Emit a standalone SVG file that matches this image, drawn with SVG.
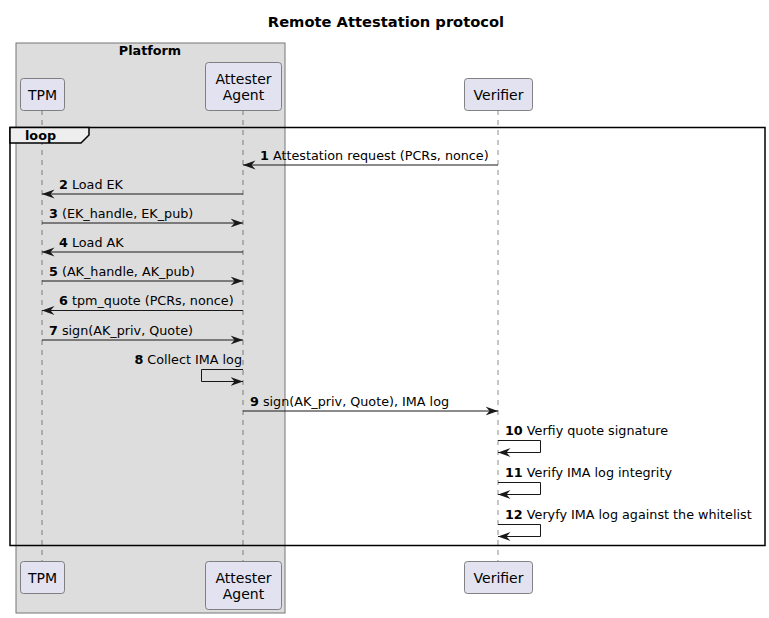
<svg xmlns="http://www.w3.org/2000/svg" width="769" height="618" viewBox="0 0 769 618">
<style>
text{font-family:"DejaVu Sans",sans-serif;fill:#000}
.t{font-size:12.75px}
.p{font-size:14px;text-anchor:middle}
.b{font-weight:bold}
.part{fill:#E2E2F0;stroke:#666;stroke-width:0.8}
.life{stroke:#181818;stroke-width:0.5;stroke-dasharray:5,5;fill:none}
.msg{stroke:#181818;stroke-width:1;fill:none}
</style>
<defs>
<marker id="arr" viewBox="0 0 13 10" refX="12.5" refY="5" markerWidth="13" markerHeight="10" markerUnits="userSpaceOnUse" orient="auto">
<polygon points="0,0.5 12.5,5 0,9.5 4,5" fill="#181818"/>
</marker>
</defs>
<rect width="769" height="618" fill="#fff"/>
<text x="386" y="27" class="b" style="font-size:14.7px;text-anchor:middle">Remote Attestation protocol</text>

<g id="platform">
<rect x="16" y="43" width="269" height="570" fill="#DDDDDD" stroke="#777" stroke-width="1"/>
<text x="150" y="55" class="b t" text-anchor="middle">Platform</text>
</g>

<g id="lifelines">
<line class="life" x1="42" y1="110" x2="42" y2="561"/>
<line class="life" x1="243" y1="110" x2="243" y2="561"/>
<line class="life" x1="498" y1="110" x2="498" y2="561"/>
</g>

<g id="tpm">
<rect class="part" x="20.5" y="78.5" width="44" height="32" rx="3"/>
<text class="p" x="42.5" y="99.5">TPM</text>
<rect class="part" x="20.5" y="561.5" width="44" height="32" rx="3"/>
<text class="p" x="42.5" y="582.5">TPM</text>
</g>
<g id="agent">
<rect class="part" x="205.5" y="62.5" width="76" height="48" rx="3"/>
<text class="p" x="243.5" y="83.5">Attester</text>
<text class="p" x="243.5" y="99.5">Agent</text>
<rect class="part" x="205.5" y="561.5" width="76" height="48" rx="3"/>
<text class="p" x="243.5" y="582.5">Attester</text>
<text class="p" x="243.5" y="598.5">Agent</text>
</g>
<g id="verifier">
<rect class="part" x="464.5" y="78.5" width="68" height="32" rx="3"/>
<text class="p" x="498.5" y="99.5">Verifier</text>
<rect class="part" x="464.5" y="561.5" width="68" height="32" rx="3"/>
<text class="p" x="498.5" y="582.5">Verifier</text>
</g>

<g id="loop">
<rect x="10" y="127.5" width="755" height="418" fill="none" stroke="#000" stroke-width="1.5"/>
<polygon points="10,127.5 89,127.5 89,135 81,143 10,143" fill="#EEEEEE" stroke="#000" stroke-width="1.5"/>
<text x="25" y="140" class="b t">loop</text>
</g>

<g id="connectors">
<line class="msg" x1="498" y1="165" x2="243" y2="165" marker-end="url(#arr)"/>
<line class="msg" x1="243" y1="194" x2="42" y2="194" marker-end="url(#arr)"/>
<line class="msg" x1="42" y1="223" x2="243" y2="223" marker-end="url(#arr)"/>
<line class="msg" x1="243" y1="252" x2="42" y2="252" marker-end="url(#arr)"/>
<line class="msg" x1="42" y1="281" x2="243" y2="281" marker-end="url(#arr)"/>
<line class="msg" x1="243" y1="310.5" x2="42" y2="310.5" marker-end="url(#arr)"/>
<line class="msg" x1="42" y1="340" x2="243" y2="340" marker-end="url(#arr)"/>
<polyline class="msg" points="243,369.5 201.5,369.5 201.5,381.5 243,381.5" marker-end="url(#arr)"/>
<line class="msg" x1="243" y1="411" x2="498" y2="411" marker-end="url(#arr)"/>
<polyline class="msg" points="498,440.5 540.5,440.5 540.5,452.5 498,452.5" marker-end="url(#arr)"/>
<polyline class="msg" points="498,482.5 540.5,482.5 540.5,494.5 498,494.5" marker-end="url(#arr)"/>
<polyline class="msg" points="498,524.5 540.5,524.5 540.5,536.5 498,536.5" marker-end="url(#arr)"/>
</g>

<g id="labels" class="t">
<text x="260" y="160"><tspan class="b">1</tspan> Attestation request (PCRs, nonce)</text>
<text x="59" y="189"><tspan class="b">2</tspan> Load EK</text>
<text x="49" y="218"><tspan class="b">3</tspan> (EK_handle, EK_pub)</text>
<text x="59" y="247"><tspan class="b">4</tspan> Load AK</text>
<text x="49" y="276"><tspan class="b">5</tspan> (AK_handle, AK_pub)</text>
<text x="59" y="305"><tspan class="b">6</tspan> tpm_quote (PCRs, nonce)</text>
<text x="49" y="335"><tspan class="b">7</tspan> sign(AK_priv, Quote)</text>
<text x="242" y="364" text-anchor="end"><tspan class="b">8</tspan> Collect IMA log</text>
<text x="250" y="406"><tspan class="b">9</tspan> sign(AK_priv, Quote), IMA log</text>
<text x="505" y="435"><tspan class="b">10</tspan> Verfiy quote signature</text>
<text x="505" y="477"><tspan class="b">11</tspan> Verify IMA log integrity</text>
<text x="505" y="519"><tspan class="b">12</tspan> Veryfy IMA log against the whitelist</text>
</g>
</svg>
